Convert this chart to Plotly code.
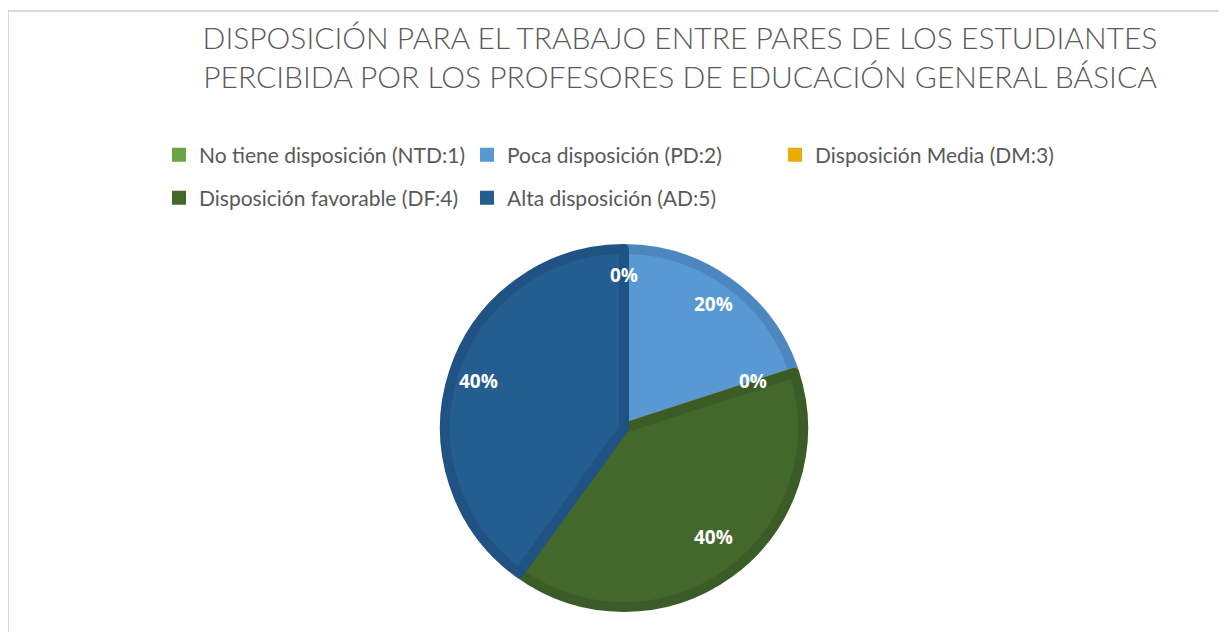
import math
import plotly.graph_objects as go

# ---------------- data ----------------
labels = ["No tiene disposición (NTD:1)", "Poca disposición (PD:2)", "Disposición Media (DM:3)",
          "Disposición favorable (DF:4)", "Alta disposición (AD:5)"]
values = [0, 20, 0, 40, 40]
colors = ["#6AA443", "#5899D4", "#E9AE00", "#43682B", "#245E91"]
edge_colors = ["#5F943C", "#4C87BF", "#D19C00", "#3B5C26", "#205383"]
title_lines = ["DISPOSICIÓN PARA EL TRABAJO ENTRE PARES DE LOS ESTUDIANTES",
               "PERCIBIDA POR LOS PROFESORES DE EDUCACIÓN GENERAL BÁSICA"]

# ---------------- layout helpers ----------------
OFF = 8                      # page body margin
FW, FH = 1227 - OFF, 632 - OFF
MR = 100
PW = FW - MR


def px(x):
    return (x - OFF) / PW


def py(y):
    return 1 - (y - OFF) / FH


cx, cy, R = 624, 428, 184
LW = 10
r_geom = R - LW / 2

fig = go.Figure()
fig.add_trace(go.Pie(
    labels=labels, values=values, sort=False, direction="clockwise", rotation=0,
    marker=dict(colors=colors, line=dict(color=edge_colors, width=LW)),
    textinfo="none", hoverinfo="label+percent", showlegend=False,
    domain=dict(x=[px(cx - r_geom), px(cx + r_geom)], y=[py(cy + r_geom), py(cy - r_geom)]),
))

# legend entries (two rows as in the original)
for i, (lab, col) in enumerate(zip(labels, colors)):
    fig.add_trace(go.Scatter(
        x=[None], y=[None], mode="markers", name=lab,
        marker=dict(symbol="square", size=14, color=col),
        legend="legend" if i < 3 else "legend2", showlegend=True,
    ))

# percentage labels
total = sum(values)
cum = 0
annotations = []
for v in values:
    mid = (cum + v / 2) / total * 2 * math.pi
    cum += v
    d = 0.83 * R
    annotations.append(dict(
        x=px(cx + d * math.sin(mid)), y=py(cy - d * math.cos(mid)),
        xref="paper", yref="paper", showarrow=False,
        text=f"<b>{round(v / total * 100)}%</b>",
        font=dict(family="Open Sans", size=19, color="white"),
    ))

legend_common = dict(orientation="h", xanchor="left", yanchor="middle", entrywidth=263,
                     font=dict(family="Lato", size=21, color="#595959"),
                     bgcolor="rgba(0,0,0,0)", itemclick=False)

fig.update_layout(
    width=FW, height=FH, autosize=False,
    margin=dict(l=0, r=MR, t=0, b=0),
    paper_bgcolor="white", plot_bgcolor="white",
    xaxis=dict(visible=False), yaxis=dict(visible=False),
    title=dict(text="<br>".join(title_lines), xref="container", yref="container",
               x=(680 - OFF) / FW, xanchor="center", y=1 - (49 - OFF) / FH, yanchor="middle",
               font=dict(family="Lato", size=30, color="#595959", weight=300)),
    legend=dict(x=px(159), y=py(155), **legend_common),
    legend2=dict(x=px(159), y=py(198), **legend_common),
    annotations=annotations,
    shapes=[dict(type="rect", xref="paper", yref="paper", x0=px(8), y0=py(11), x1=px(1260), y1=py(660),
                 line=dict(color="#D9D9D9", width=2), layer="below")],
)

fig.write_html("out.html")
